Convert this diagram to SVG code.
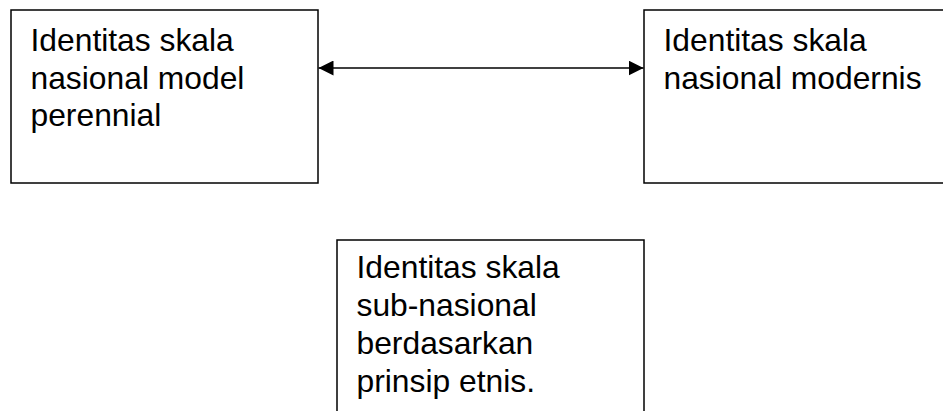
<svg xmlns="http://www.w3.org/2000/svg" width="943" height="411" viewBox="0 0 943 411">
<style>
.box{fill:#fff;stroke:#000;stroke-width:1.5}
.t{font-family:"Liberation Sans",Arial,sans-serif;font-size:31.8px;fill:#000}
.c{stroke:#000;stroke-width:1.5;fill:none}
</style>
<defs>
<marker id="ah" viewBox="0 0 15 15" refX="15" refY="7.5" markerWidth="15" markerHeight="15" markerUnits="userSpaceOnUse" orient="auto-start-reverse">
<path d="M0,0 L15,7.5 L0,15 Z" fill="#000"/>
</marker>
</defs>
<rect width="943" height="411" fill="#fff"/>
<g id="node-perennial">
<rect class="box" x="11" y="10" width="307" height="173"/>
<text class="t" x="30.5" y="51">Identitas skala</text>
<text class="t" x="30.5" y="88.5">nasional model</text>
<text class="t" x="30.5" y="126">perennial</text>
</g>
<g id="node-modernis">
<rect class="box" x="644" y="10" width="320" height="173"/>
<text class="t" x="663.5" y="51">Identitas skala</text>
<text class="t" x="663.5" y="88.5">nasional modernis</text>
</g>
<g id="node-subnasional">
<rect class="box" x="337" y="240" width="307" height="190"/>
<text class="t" x="356.5" y="278">Identitas skala</text>
<text class="t" x="356.5" y="316">sub-nasional</text>
<text class="t" x="356.5" y="354">berdasarkan</text>
<text class="t" x="356.5" y="391.5">prinsip etnis.</text>
</g>
<g id="connectors">
<line class="c" x1="318.5" y1="68" x2="643.5" y2="68" marker-start="url(#ah)" marker-end="url(#ah)"/>
</g>
</svg>
